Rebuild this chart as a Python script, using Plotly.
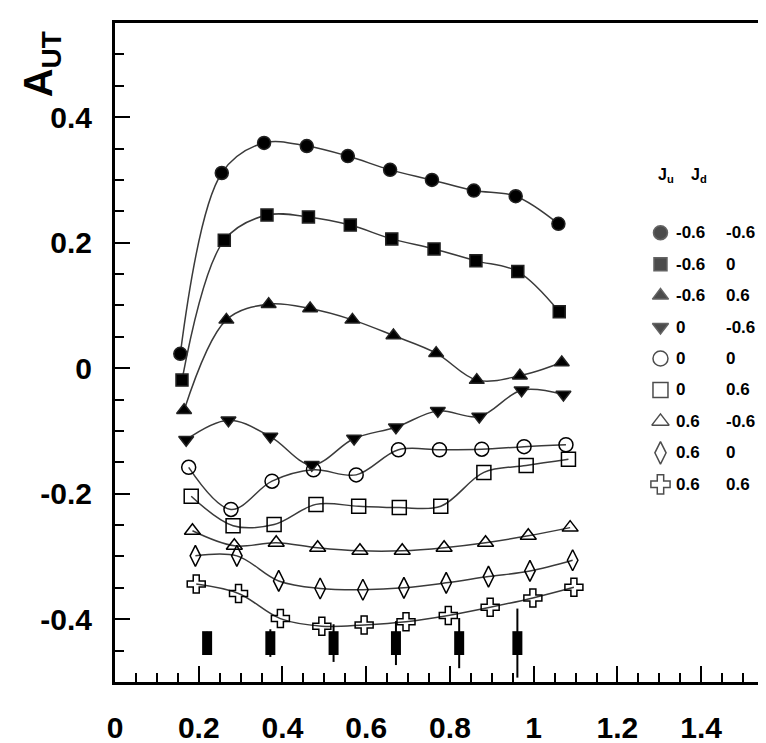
import plotly.graph_objects as go

# ---------------- data ----------------
s1_x = [0.156, 0.255, 0.356, 0.458, 0.556, 0.657, 0.757, 0.857, 0.957, 1.059]
s1_y = [0.023, 0.311, 0.359, 0.354, 0.338, 0.316, 0.300, 0.283, 0.274, 0.230]

s2_x = [0.160, 0.261, 0.363, 0.462, 0.562, 0.661, 0.762, 0.862, 0.962, 1.061]
s2_y = [-0.019, 0.204, 0.244, 0.241, 0.228, 0.206, 0.190, 0.171, 0.154, 0.090]

s3_x = [0.165, 0.266, 0.367, 0.466, 0.567, 0.665, 0.767, 0.864, 0.967, 1.067]
s3_y = [-0.067, 0.077, 0.102, 0.095, 0.077, 0.052, 0.024, -0.019, -0.012, 0.009]

s4_x = [0.170, 0.271, 0.371, 0.470, 0.571, 0.671, 0.771, 0.870, 0.971, 1.071]
s4_y = [-0.114, -0.083, -0.109, -0.154, -0.112, -0.094, -0.068, -0.077, -0.035, -0.042]

s5_x = [0.176, 0.277, 0.375, 0.474, 0.576, 0.677, 0.775, 0.876, 0.977, 1.077]
s5_y = [-0.158, -0.225, -0.180, -0.162, -0.170, -0.130, -0.130, -0.129, -0.125, -0.122]

s6_x = [0.182, 0.282, 0.380, 0.480, 0.582, 0.679, 0.778, 0.881, 0.982, 1.083]
s6_y = [-0.204, -0.251, -0.249, -0.217, -0.220, -0.222, -0.220, -0.166, -0.155, -0.145]

s7_x = [0.185, 0.285, 0.385, 0.484, 0.585, 0.686, 0.786, 0.885, 0.987, 1.087]
s7_y = [-0.259, -0.283, -0.278, -0.286, -0.291, -0.291, -0.286, -0.278, -0.267, -0.254]

s8_x = [0.192, 0.291, 0.391, 0.490, 0.592, 0.690, 0.791, 0.892, 0.991, 1.093]
s8_y = [-0.299, -0.299, -0.339, -0.351, -0.353, -0.350, -0.342, -0.332, -0.323, -0.306]

s9_x = [0.194, 0.295, 0.395, 0.494, 0.595, 0.695, 0.796, 0.896, 0.998, 1.096]
s9_y = [-0.344, -0.359, -0.399, -0.411, -0.409, -0.404, -0.394, -0.381, -0.366, -0.349]

# bottom data points with error bars
b_x = [0.220, 0.371, 0.522, 0.671, 0.822, 0.961]
b_y = [-0.438, -0.438, -0.438, -0.438, -0.438, -0.438]
b_err = [0.018, 0.022, 0.030, 0.035, 0.040, 0.055]

# legend labels
ju_labels = ["-0.6", "-0.6", "-0.6", "0", "0", "0", "0.6", "0.6", "0.6"]
jd_labels = ["-0.6", "0", "0.6", "-0.6", "0", "0.6", "-0.6", "0", "0.6"]

x_tickvals = [0, 0.2, 0.4, 0.6, 0.8, 1.0, 1.2, 1.4]
x_ticktext = ["0", "0.2", "0.4", "0.6", "0.8", "1", "1.2", "1.4"]
y_tickvals = [-0.4, -0.2, 0, 0.2, 0.4]
y_ticktext = ["-0.4", "-0.2", "0", "0.2", "0.4"]

# ---------------- styling ----------------
series = [
    (s1_x, s1_y, "circle", 13),
    (s2_x, s2_y, "square", 12),
    (s3_x, s3_y, "triangle-up", 13),
    (s4_x, s4_y, "triangle-down", 13),
    (s5_x, s5_y, "circle-open", 14),
    (s6_x, s6_y, "square-open", 14),
    (s7_x, s7_y, "triangle-up-open", 14),
    (s8_x, s8_y, "diamond-tall-open", 15),
    (s9_x, s9_y, "cross-open", 15),
]

FONT = "Liberation Sans, Arial, sans-serif"
W, H = 766, 743
L, R, T, B = 107, 7, 15, 68
PW, PH = W - L - R, H - T - B


def px(xpix):
    return (xpix - L) / PW


def py(ypix):
    return (H - B - ypix) / PH


fig = go.Figure()

for xs, ys, sym, sz in series:
    fig.add_trace(go.Scatter(
        x=xs, y=ys, mode="lines+markers",
        line=dict(color="#3a3a3a", width=1.5, shape="spline", smoothing=1.0),
        marker=dict(symbol=sym, size=sz, color="black",
                    line=dict(color="#222", width=1.5)),
        showlegend=False, cliponaxis=False,
    ))

fig.add_trace(go.Scatter(
    x=b_x, y=b_y, mode="markers",
    marker=dict(symbol="line-ns", size=17, color="black",
                line=dict(color="black", width=10)),
    error_y=dict(type="data", array=b_err, visible=True,
                 color="black", thickness=2, width=0),
    showlegend=False, cliponaxis=False,
))

# ---------------- manual legend ----------------
leg_sym_x = px(655)
col1_x = px(669)
col2_x = px(719)
row_y = [py(225 + 31.5 * i) for i in range(len(series))]

fig.add_trace(go.Scatter(
    x=[leg_sym_x] * len(series), y=row_y, mode="markers",
    xaxis="x2", yaxis="y2",
    marker=dict(symbol=[s[2] for s in series], size=[s[3] + 1 for s in series],
                color="black", line=dict(color="#222", width=1.5)),
    showlegend=False, cliponaxis=False, hoverinfo="skip",
))

annotations = []
for i in range(len(series)):
    annotations.append(dict(x=col1_x, y=row_y[i], xref="paper", yref="paper",
                            text=ju_labels[i], showarrow=False, xanchor="left",
                            yanchor="middle",
                            font=dict(family=FONT, size=17, color="black", weight="bold")))
    annotations.append(dict(x=col2_x, y=row_y[i], xref="paper", yref="paper",
                            text=jd_labels[i], showarrow=False, xanchor="left",
                            yanchor="middle",
                            font=dict(family=FONT, size=17, color="black", weight="bold")))

annotations.append(dict(x=px(651), y=py(168), xref="paper", yref="paper",
                        text="J<sub>u</sub>", showarrow=False, xanchor="left",
                        yanchor="middle",
                        font=dict(family=FONT, size=16, color="black", weight="bold")))
annotations.append(dict(x=px(684), y=py(168), xref="paper", yref="paper",
                        text="J<sub>d</sub>", showarrow=False, xanchor="left",
                        yanchor="middle",
                        font=dict(family=FONT, size=16, color="black", weight="bold")))

# y-axis title A_UT
annotations.append(dict(x=px(33), y=py(56), xref="paper", yref="paper",
                        text="A<sub>UT</sub>", textangle=-90, showarrow=False,
                        xanchor="center", yanchor="middle",
                        font=dict(family=FONT, size=40, color="black", weight="bold")))

axis_common = dict(
    showline=True, linewidth=3, linecolor="black", mirror=True,
    ticks="inside", tickwidth=2, tickcolor="black",
    showgrid=False, zeroline=False,
    tickfont=dict(family=FONT, size=30, color="black", weight="bold"),
)

fig.update_layout(
    width=W, height=H,
    margin=dict(l=L, r=R, t=T, b=B),
    paper_bgcolor="white", plot_bgcolor="white",
    xaxis=dict(range=[0, 1.55], tickmode="array", tickvals=x_tickvals,
               ticktext=x_ticktext, ticklen=16, ticklabelstandoff=17,
               minor=dict(tickmode="linear", tick0=0, dtick=0.05, ticks="inside",
                          ticklen=9, tickwidth=2, tickcolor="black"),
               **axis_common),
    yaxis=dict(range=[-0.5, 0.55], tickmode="array", tickvals=y_tickvals,
               ticktext=y_ticktext, ticklen=15, ticklabelstandoff=14,
               minor=dict(tickmode="linear", tick0=0, dtick=0.05, ticks="inside",
                          ticklen=9, tickwidth=2, tickcolor="black"),
               **axis_common),
    xaxis2=dict(range=[0, 1], overlaying="x", anchor="y2", visible=False),
    yaxis2=dict(range=[0, 1], overlaying="y", anchor="x2", visible=False),
    annotations=annotations,
    showlegend=False,
)

fig.write_html("out.html")
